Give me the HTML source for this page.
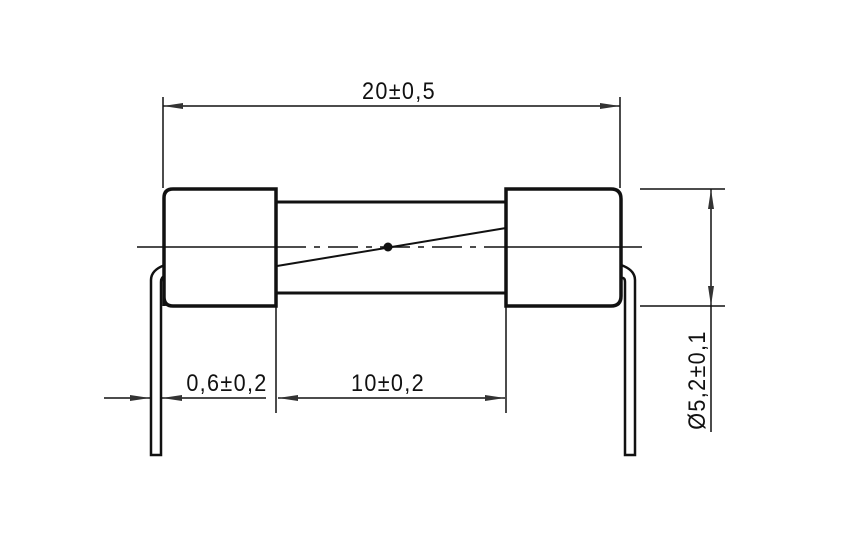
<!DOCTYPE html>
<html><head><style>body{margin:0;background:#fff}svg{display:block}text{font-family:"Liberation Sans",sans-serif;font-size:24px;fill:#111;letter-spacing:1.5px}</style></head><body>
<svg width="848" height="556" viewBox="0 0 848 556" xmlns="http://www.w3.org/2000/svg">
<defs><marker id="a" viewBox="0 0 20 8" refX="20" refY="4" markerWidth="20" markerHeight="8" markerUnits="userSpaceOnUse" orient="auto-start-reverse"><path d="M0,1 L20,4 L0,7 Z" fill="#333"/></marker></defs>
<g stroke="#111" fill="none">
<path d="M165,265 Q151,270 151,280 L151,455 L161,455 L161,282 Q161,277 165,276" stroke-width="2.5" fill="#fff"/>
<path d="M621,265 Q635,270 635,280 L635,455 L625,455 L625,282 Q625,277 621,278" stroke-width="2.5" fill="#fff"/>
<path d="M164,306 L164,198 Q164,189 173,189 L276,189 L276,306 L173,306 Q164,306 164,297" stroke-width="3.5" fill="#fff"/>
<path d="M506,189 L611,189 Q621,189 621,199 L621,296 Q621,306 611,306 L506,306 Z" stroke-width="3.5" fill="#fff"/>
<line x1="276" y1="202" x2="506" y2="202" stroke-width="3"/>
<line x1="276" y1="293" x2="506" y2="293" stroke-width="3"/>
<line x1="277" y1="266" x2="506" y2="228" stroke-width="2"/>
<line x1="137" y1="247" x2="276" y2="247" stroke-width="1.5"/>
<line x1="276" y1="247" x2="506" y2="247" stroke-width="1.5" stroke-dasharray="30,8,6,8"/>
<line x1="506" y1="247" x2="642" y2="247" stroke-width="1.5"/>
<line x1="163" y1="97" x2="163" y2="188" stroke-width="1.5"/>
<line x1="620" y1="97" x2="620" y2="188" stroke-width="1.5"/>
<line x1="163" y1="106" x2="620" y2="106" stroke-width="1.5" marker-start="url(#a)" marker-end="url(#a)"/>
<line x1="276" y1="306" x2="276" y2="413" stroke-width="1.5"/>
<line x1="506" y1="306" x2="506" y2="413" stroke-width="1.5"/>
<line x1="104" y1="398" x2="150" y2="398" stroke-width="1.5" marker-end="url(#a)"/>
<line x1="266" y1="398" x2="162" y2="398" stroke-width="1.5" marker-end="url(#a)"/>
<line x1="278" y1="398" x2="505" y2="398" stroke-width="1.5" marker-start="url(#a)" marker-end="url(#a)"/>
<line x1="640" y1="189" x2="725" y2="189" stroke-width="1.5"/>
<line x1="640" y1="306" x2="725" y2="306" stroke-width="1.5"/>
<line x1="711" y1="189" x2="711" y2="306" stroke-width="1.5" marker-start="url(#a)" marker-end="url(#a)"/>
<line x1="711" y1="306" x2="711" y2="432" stroke-width="1.5"/>
</g>
<circle cx="388" cy="247" r="4.5" fill="#111"/>
<text transform="translate(399,99) scale(0.9,1)" text-anchor="middle">20±0,5</text>
<text transform="translate(227,391) scale(0.9,1)" text-anchor="middle">0,6±0,2</text>
<text transform="translate(388,391) scale(0.9,1)" text-anchor="middle">10±0,2</text>
<text transform="translate(705,380) rotate(-90) scale(0.9,1)" text-anchor="middle">Ø5,2±0,1</text>
</svg>
</body></html>
